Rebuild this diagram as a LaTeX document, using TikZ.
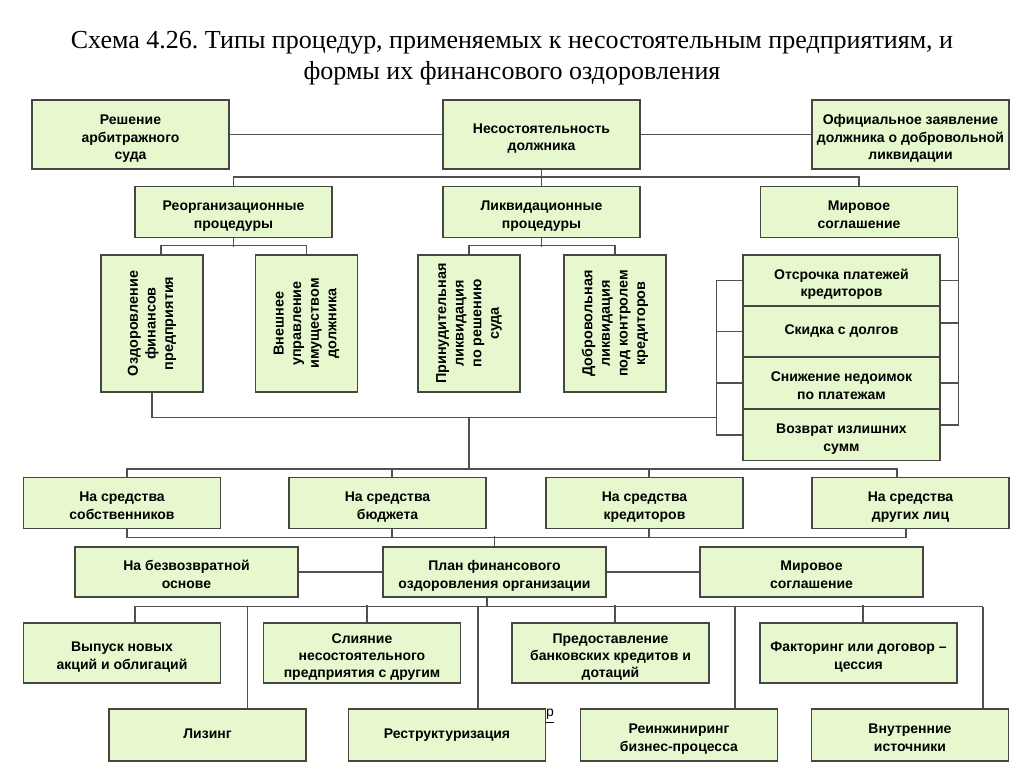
\documentclass[tikz,border=0pt]{standalone}
\usepackage{fontspec}
\setmainfont{Liberation Serif}
\newfontfamily\boxfont{Liberation Sans}
\usepackage{tikz}
\usetikzlibrary{positioning,calc}

\definecolor{boxfill}{RGB}{232,248,206}
\definecolor{boxline}{RGB}{70,70,70}
\definecolor{wireline}{RGB}{80,80,80}

\newcommand{\upstrut}{\rule{0pt}{9pt}}

\tikzset{
  box/.style={draw=boxline, fill=boxfill, line width=0.7pt, align=center,
    font=\boxfont\bfseries\fontsize{7}{8.6}\selectfont, inner sep=1pt,
    minimum width=98.5pt, minimum height=25.5pt,
    execute at end node={\vphantom{у}}},
  tallbox/.style={box, minimum height=34.5pt},
  widebox/.style={box, minimum width=111.5pt, minimum height=25pt},
  vbox/.style={box, rotate=90, minimum width=68.5pt, minimum height=51pt,
    font=\boxfont\bfseries\fontsize{7.2}{8.8}\selectfont},
  stackbox/.style={box, minimum height=25.5pt},
  wire/.style={draw=wireline, line width=0.7pt}
}

\begin{document}
\frenchspacing
\begin{tikzpicture}[x=0.5pt,y=-0.5pt]
\useasboundingbox (0,0) rectangle (1024,767);

% Title
\node (title) at (512,58) [align=center, font=\fontsize{13}{15.5}\selectfont]
  {Схема 4.26. Типы процедур, применяемых к несостоятельным предприятиям, и\\
   формы их финансового оздоровления};

% Top row
\node[tallbox] (arb) at (130.5,134.5) {\upstrut Решение\\арбитражного\\суда};
\node[tallbox] (nes) at (541.5,134.5) {\upstrut Несостоятельность\\должника};
\node[tallbox] (ofz) at (910.5,134.5) {\upstrut Официальное заявление\\должника о добровольной\\ликвидации};

% Procedures
\node[box] (reo) at (233.5,212) {\upstrut Реорганизационные\\процедуры};
\node[box] (lik) at (541.5,212) {\upstrut Ликвидационные\\процедуры};
\node[box] (mir) at (859,212) {\upstrut Мировое\\соглашение};

% Vertical boxes
\node[vbox] (ozd) at (152,323.5) {Оздоровление\\финансов\\предприятия};
\node[vbox] (vnu) at (306.5,323.5) {Внешнее\\управление\\имуществом\\должника};
\node[vbox] (pri) at (469,323.5) {Принудительная\\ликвидация\\по решению\\суда};
\node[vbox] (dob) at (615,323.5) {Добровольная\\ликвидация\\под контролем\\кредиторов};

% Settlement stack
\node[stackbox] (ots) at (841.5,280.5) {\upstrut Отсрочка платежей\\кредиторов};
\node[stackbox] (skd) at (841.5,331.5) {Скидка с долгов};
\node[stackbox] (sni) at (841.5,383) {\upstrut Снижение недоимок\\по платежам};
\node[stackbox] (voz) at (841.5,435) {\upstrut Возврат излишних\\сумм};

% Sources
\node[box] (sob) at (122,503) {\upstrut На средства\\собственников};
\node[box] (bud) at (387.5,503) {\upstrut На средства\\бюджета};
\node[box] (kre) at (644.5,503) {\upstrut На средства\\кредиторов};
\node[box] (dru) at (910.5,503) {\upstrut На средства\\других лиц};

% Plan row
\node[widebox] (bez) at (186.5,572) {\upstrut На безвозвратной\\основе};
\node[widebox] (plan) at (494.5,572) {\upstrut План финансового\\оздоровления организации};
\node[widebox] (mir2) at (811.5,572) {\upstrut Мировое\\соглашение};

% Forms, first row
\node[box, minimum height=30pt] (vyp) at (122,653) {\upstrut Выпуск новых\\акций и облигаций};
\node[box, minimum height=30pt] (sli) at (362,653) {\upstrut Слияние\\несостоятельного\\предприятия с другим};
\node[box, minimum height=30pt] (pre) at (610.5,653) {\upstrut Предоставление\\банковских кредитов и\\дотаций};
\node[box, minimum height=30pt] (fak) at (858.5,653) {\upstrut Факторинг или договор –\\цессия};

% Forms, second row
\node[box, minimum height=26pt] (liz) at (207.5,735) {Лизинг};
\node[box, minimum height=26pt] (res) at (447,735) {Реструктуризация};
\node[box, minimum height=26pt] (rei) at (679,735) {\upstrut Реинжиниринг\\бизнес-процесса};
\node[box, minimum height=26pt] (vis) at (910,735) {\upstrut Внутренние\\источники};

\node (mark) at (550,716) [font=\boxfont\fontsize{7}{8}\selectfont, inner sep=0pt] {\underline{р}};

% Top connections
\draw[wire] (arb) -- (nes);
\draw[wire] (nes) -- (ofz);
\draw[wire] (nes.south) -- (lik.north);
\draw[wire] (reo.north) -- ++(0,-9) -| (mir.north);

% Procedures to vertical boxes
\draw[wire] (reo.south) -- ++(0,9);
\draw[wire] ([xshift=4.5pt]ozd.east) -- ++(0,-9) -| (vnu.east);
\draw[wire] (lik.south) -- ++(0,9);
\draw[wire] (pri.east) -- ++(0,-9) -| (dob.east);

% Settlement stack, right side
\draw[wire] (mir.south east) |- ([yshift=5pt]voz.east);
\draw[wire] (ots.east) -- ++(17,0);
\draw[wire] ([yshift=4.25pt]skd.east) -- ++(17,0);
\draw[wire] (sni.east) -- ++(17,0);

% Settlement stack, left side
\draw[wire] (ots.west) -- ++(-26,0) coordinate (lb) |- (voz.west);
\foreach \s in {skd,sni}
  \draw[wire] (\s.west) -- ++(-26,0);

% Gathering line
\draw[wire] (ozd.west) -- ++(0,25) coordinate (j1) -- (j1 -| lb);
\draw[wire] (j1 -| pri) -- ++(0,52);

% Sources bus
\draw[wire] ([xshift=2.5pt]sob.north) -- ++(0,-8) -| ([xshift=-6.75pt]dru.north);
\foreach \s in {bud,kre}
  \draw[wire] ([xshift=2.25pt]\s.north) -- ++(0,-8);
\draw[wire] ([xshift=2.5pt]sob.south) -- ++(0,8) -| ([xshift=-2.25pt]dru.south);
\foreach \s in {bud,kre}
  \draw[wire] ([xshift=2.25pt]\s.south) -- ++(0,8);
\draw[wire] (plan.north) -- ++(0,-10);

% Plan row
\draw[wire] (bez) -- (plan);
\draw[wire] (plan) -- (mir2);

% Forms bus
\draw[wire] ([xshift=-3.75pt]plan.south) -- ++(0,9) coordinate (bus);
\draw[wire] ([xshift=6.5pt]vyp.north) coordinate (dvyp) -- (dvyp |- bus) -- (bus);
\draw[wire] ([xshift=2.5pt]sli.north) -- ++(0,-17);
\foreach \s in {pre,fak}
  \draw[wire] ([xshift=2.25pt]\s.north) -- ++(0,-17);
\foreach \s/\dx in {liz/40,res/31,rei/56,vis/73} {
  \path ($(\s.north)+(\dx,0)$) coordinate (d\s);
  \draw[wire] (d\s) -- (d\s |- bus);
}
\draw[wire] (bus) -- (dvis |- bus);
\end{tikzpicture}
\end{document}
